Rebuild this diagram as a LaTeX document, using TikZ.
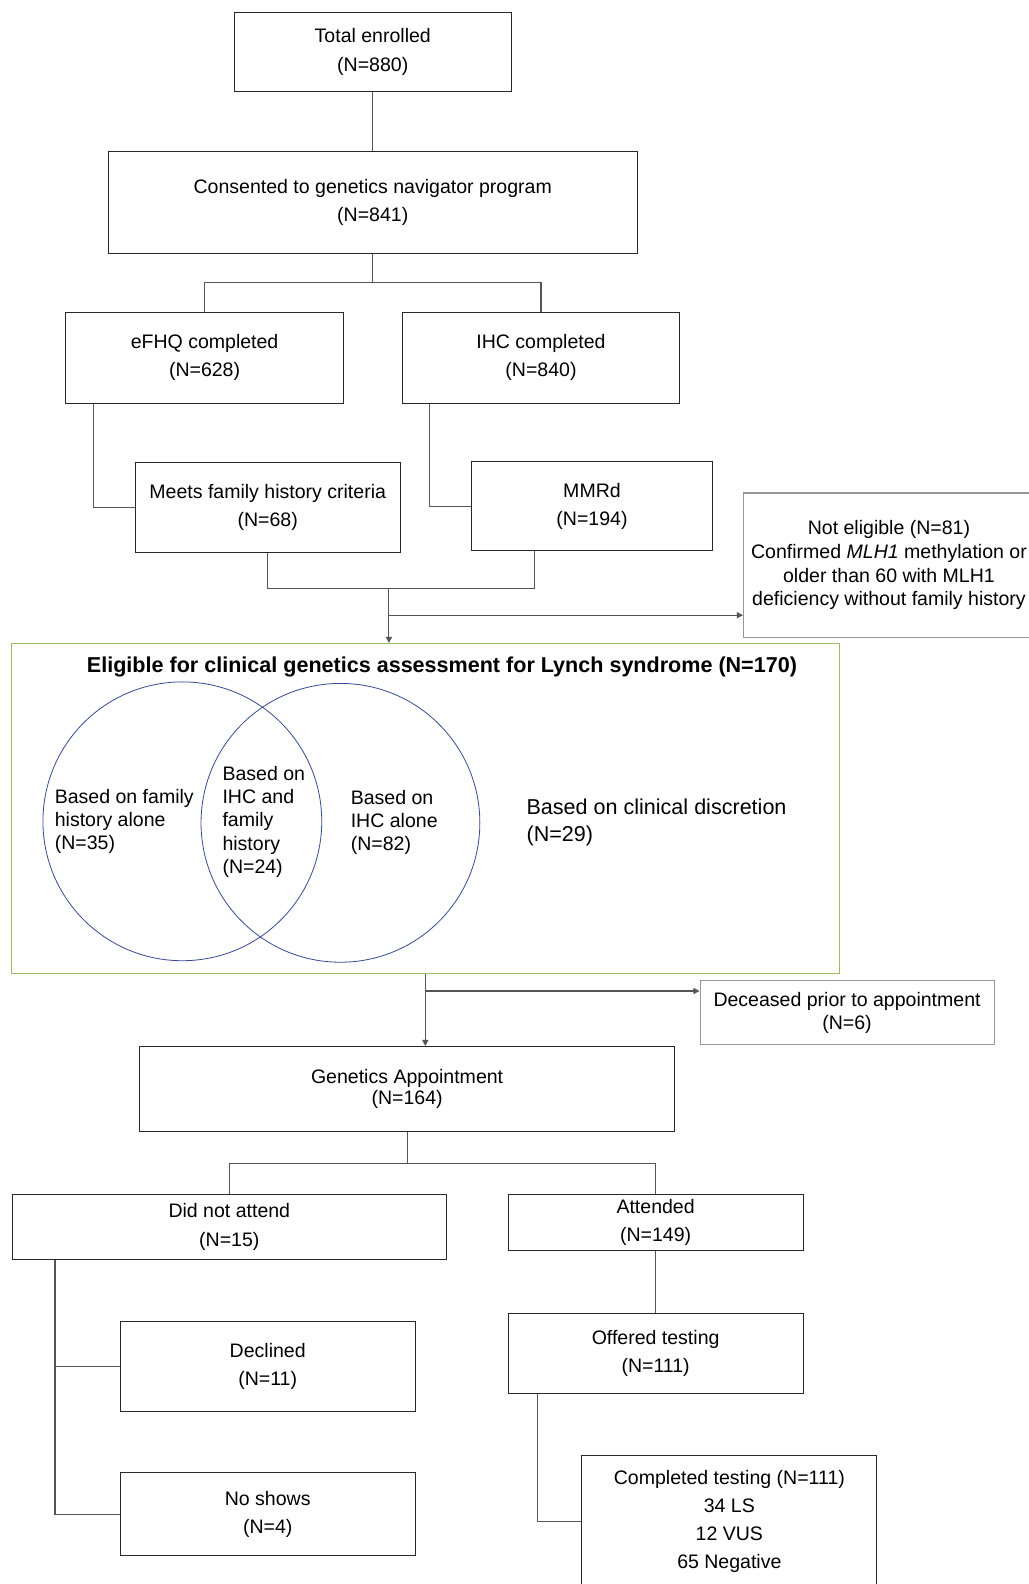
\documentclass[tikz,border=0pt]{standalone}
\usepackage{fontspec}
\setmainfont{Liberation Sans}
\usetikzlibrary{calc,arrows.meta}
\newlength{\pxlen}
\setlength{\pxlen}{0.75pt}
\definecolor{boxline}{RGB}{40,40,40}
\definecolor{paleline}{RGB}{150,150,150}
\definecolor{linkline}{RGB}{85,85,85}
\definecolor{eligreen}{RGB}{155,190,100}
\definecolor{vennblue}{RGB}{55,75,150}

\begin{document}
\begin{tikzpicture}[x=\pxlen,y=-\pxlen,
	box/.style 2 args={draw=boxline, line width=0.8pt, minimum width=#1\pxlen, minimum height=#2\pxlen, inner sep=0pt, align=center, font=\fontsize{14.5}{21}\selectfont},
	palebox/.style 2 args={box={#1}{#2}, draw=paleline, font=\fontsize{14.5}{17.5}\selectfont},
	link/.style={draw=linkline, line width=0.8pt},
	arrowlink/.style={link, -{Triangle[length=4.5pt,width=4.5pt]}},
	venntext/.style={anchor=west, inner sep=0pt, align=left, font=\fontsize{14.5}{17.25}\selectfont}]
	\path[use as bounding box, fill=white] (0,0) rectangle (1018,1568);

	\node[box={274}{79}] (total) at (369,51.5) {Total enrolled\\(N=880)};
	\node[box={524}{101}] (consent) at (369,200.5) {Consented to genetics navigator program\\(N=841)};
	\node[box={275}{90}] (efhq) at (202.5,354) {eFHQ completed\\(N=628)};
	\node[box={275}{90}] (ihc) at (535.5,354) {IHC completed\\(N=840)};
	\node[box={262}{89}] (meets) at (265,502.5) {Meets family history criteria\\(N=68)};
	\node[box={238}{88}] (mmrd) at (586,501) {MMRd\\(N=194)};
	\node[palebox={288}{143}] (noteligible) at (880,559.5) {Not eligible (N=81)\\Confirmed \textit{MLH1} methylation or\\older than 60 with MLH1\\deficiency without family history};

	\node[box={820}{327}, draw=eligreen] (eligible) at (421,800.5) {};
	\node[font=\bfseries\fontsize{16}{19}\selectfont] (eligtitle) at (437.5,660) {Eligible for clinical genetics assessment for Lynch syndrome (N=170)};
	\draw[vennblue, line width=0.6pt] (180.5,813) circle[radius=138\pxlen];
	\draw[vennblue, line width=0.6pt] (337,814.5) circle[radius=138\pxlen];
	\node[venntext] (famalone) at (54,813) {Based on family\\history alone\\(N=35)};
	\node[venntext] (both) at (220,813.5) {Based on\\IHC and\\family\\history\\(N=24)};
	\node[venntext] (ihcalone) at (347,814) {Based on\\IHC alone\\(N=82)};
	\node[venntext, font=\fontsize{16}{19.5}\selectfont] (discretion) at (521,814) {Based on clinical discretion\\(N=29)};

	\node[palebox={291}{63}] (deceased) at (838.5,1002.5) {Deceased prior to appointment\\(N=6)};
	\node[box={530}{84}, font=\fontsize{14.5}{15}\selectfont] (genetics) at (403,1078) {Genetics Appointment\\(N=164)};
	\node[box={430}{65}] (noattend) at (227,1214.5) {Did not attend\\(N=15)};
	\node[box={292}{56}] (attended) at (649,1210) {Attended\\(N=149)};
	\node[box={292}{79}] (offered) at (649,1339.5) {Offered testing\\(N=111)};
	\node[box={292}{130}] (completed) at (722,1506) {Completed testing (N=111)\\34 LS\\12 VUS\\65 Negative};
	\node[box={292}{89}] (declined) at (265,1352.5) {Declined\\(N=11)};
	\node[box={292}{82}] (noshows) at (265,1499) {No shows\\(N=4)};

	\coordinate (split1) at (369,280);
	\coordinate (mergeR) at (529,583);
	\coordinate (merge) at (385,583);
	\coordinate (branch1) at (385,609);
	\coordinate (branch2) at (421,981);
	\coordinate (split2) at (403,1152);
	\coordinate (efhqleg) at ($(efhq.south west)+(28,0)$);
	\coordinate (ihcleg) at ($(ihc.south west)+(28,0)$);
	\coordinate (offerleg) at ($(offered.south west)+(30,0)$);
	\coordinate (noattendleg) at ($(noattend.south west)+(43,0)$);

	\draw[link] (total.south) -- (consent.north);
	\draw[link] (consent.south) -- (split1);
	\draw[link] (efhq.north) |- (split1) -| (ihc.north);
	\draw[link] (efhqleg) |- (meets.west);
	\draw[link] (ihcleg) |- (mmrd.west);
	\draw[link] (meets.south) |- (mergeR) -- (mergeR |- mmrd.south);
	\draw[arrowlink] (merge) -- (merge |- eligible.north);
	\draw[arrowlink] (branch1) -- (branch1 -| noteligible.west);
	\draw[arrowlink] (eligible.south) -- (eligible.south |- genetics.north);
	\draw[arrowlink] (branch2) -- (branch2 -| deceased.west);
	\draw[link] (genetics.south) -- (split2);
	\draw[link] (noattend.north) |- (split2) -| (attended.north);
	\draw[link] (attended.south) -- (offered.north);
	\draw[link] (offerleg) |- (completed.west);
	\draw[link] (noattendleg) |- (noshows.west);
	\draw[link] (noattendleg |- declined.west) -- (declined.west);
\end{tikzpicture}
\end{document}
